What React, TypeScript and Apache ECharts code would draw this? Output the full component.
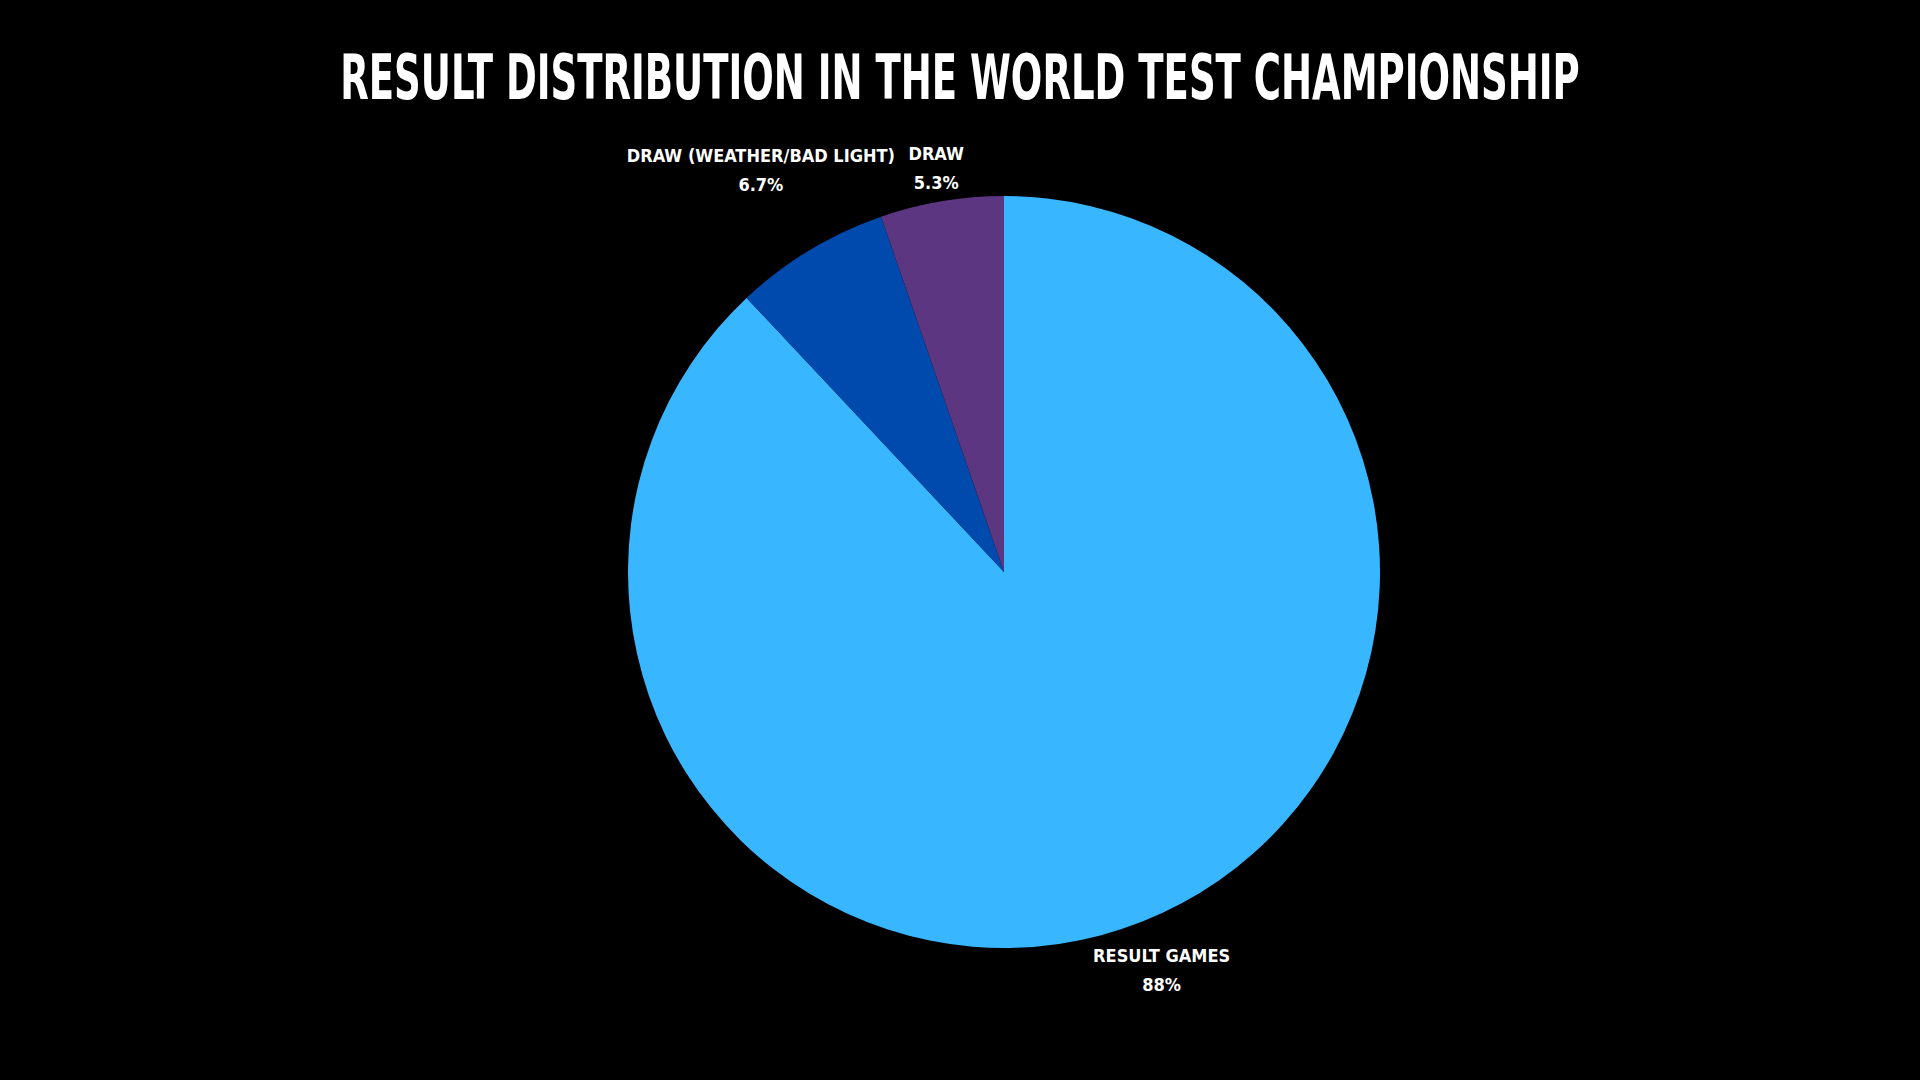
import React, { useEffect, useRef } from "react";
import * as echarts from "echarts";

const TITLE = "RESULT DISTRIBUTION IN THE WORLD TEST CHAMPIONSHIP";
const categories = ["RESULT GAMES", "DRAW (WEATHER/BAD LIGHT)", "DRAW"];
const values = [88, 6.7, 5.3];
const valueLabels = ["88%", "6.7%", "5.3%"];
const colors = ["#38B6FF", "#004AAD", "#5C3681"];

const W = 1920;
const H = 1080;
const CX = 1004;
const CY = 572;
const R = 376;
const FONT = "'DejaVu Sans Condensed', 'Liberation Sans Narrow', sans-serif";

function measure(text: string, font: string): number {
  const c = document.createElement("canvas").getContext("2d");
  if (!c) return 1;
  c.font = font;
  return c.measureText(text).width;
}

export default function App() {
  const ref = useRef<HTMLDivElement>(null);
  useEffect(() => {
    if (!ref.current) return;
    const chart = echarts.init(ref.current, null, { renderer: "svg" });
    const total = values.reduce((a, b) => a + b, 0);
    const titleSize = 62;
    const titleW = measure(TITLE, `bold ${titleSize}px ${FONT}`);
    const titleScale = 1240 / titleW;

    chart.setOption({
      animation: false,
      backgroundColor: "#000000",
      graphic: [
        {
          type: "text",
          x: W / 2,
          y: 77,
          scaleX: titleScale,
          style: {
            text: TITLE,
            fill: "#ffffff",
            font: `bold ${titleSize}px ${FONT}`,
            align: "center",
            verticalAlign: "middle",
          },
        },
      ],
      series: [
        {
          type: "pie",
          center: [CX, CY],
          radius: R,
          startAngle: 90,
          clockwise: true,
          label: {
            show: true,
            position: "outside",
            color: "#ffffff",
            fontFamily: FONT,
            fontWeight: "bold",
            fontSize: 18,
            lineHeight: 29,
            formatter: (p: any) => `${categories[p.dataIndex]}\n${valueLabels[p.dataIndex]}`,
          },
          labelLine: { show: false },
          labelLayout: (params: any) => {
            const i = params.dataIndex;
            let start = 0;
            for (let k = 0; k < i; k++) start += values[k];
            const mid = ((start + values[i] / 2) / total) * Math.PI * 2;
            const ux = Math.sin(mid);
            const uy = -Math.cos(mid);
            const w = params.labelRect.width;
            const h = params.labelRect.height;
            const ext = (w / 2) * Math.abs(ux) + (h / 2) * Math.abs(uy);
            const d = R + ext;
            return {
              x: CX + d * ux,
              y: CY + d * uy,
              align: "center",
              verticalAlign: "middle",
            };
          },
          emphasis: { disabled: true },
          itemStyle: { borderWidth: 0 },
          data: categories.map((c, i) => ({
            name: c,
            value: values[i],
            itemStyle: { color: colors[i] },
          })),
        },
      ],
    });
    return () => chart.dispose();
  }, []);
  return (
    <div
      ref={ref}
      style={{ position: "fixed", left: 0, top: 0, width: W, height: H, background: "#000" }}
    />
  );
}
